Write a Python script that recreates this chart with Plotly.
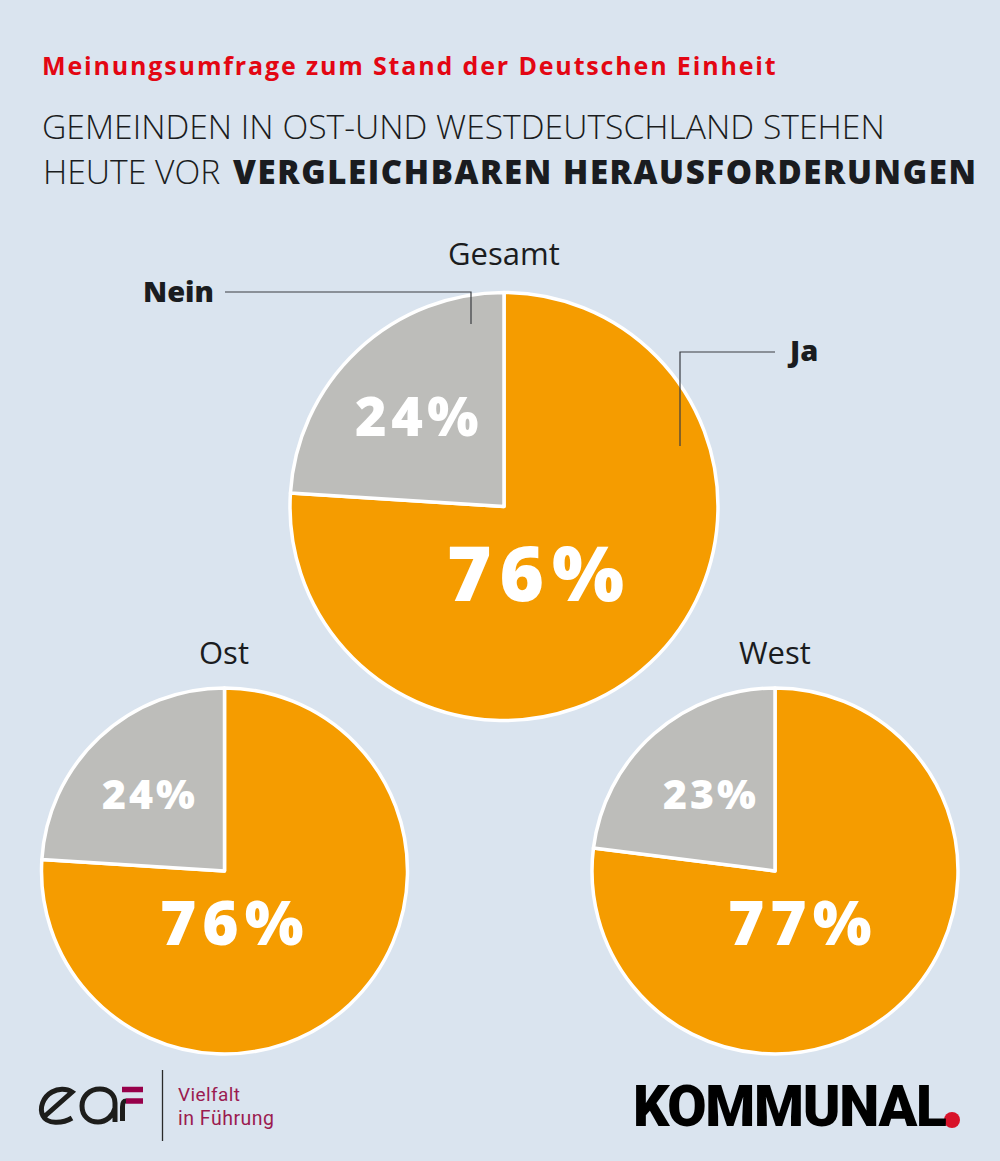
import plotly.graph_objects as go

W, H = 1000, 1161

groups = ["Gesamt", "Ost", "West"]
answers = ["Ja", "Nein"]
ja_values = [76, 76, 77]
nein_values = [24, 24, 23]

centers = [(504, 506.5), (224.5, 871), (775, 871)]
radii = [214, 183, 183]

BG = "#dae4ef"
ORANGE = "#f59c00"
GREY = "#bdbdba"
DARK = "#1a1c20"
RED = "#e30613"
BERRY = "#9b1b50"
SANS = "Open Sans"


def fx(x):
    return x / W


def fy(y):
    return 1 - y / H


def path(*cmds):
    # pixel coordinates in, paper coordinates out
    out = []
    for c in cmds:
        pts = c[1:]
        xy = [f"{fx(pts[i]):.5f},{fy(pts[i + 1]):.5f}" for i in range(0, len(pts), 2)]
        out.append(c[0] + " ".join(xy))
    return " ".join(out)


def spaced(text, px):
    return f'<span style="letter-spacing:{px}px">{text}</span>'


def label(x, y, text, size, color=DARK, weight=400, family=SANS, anchor="left"):
    return dict(x=fx(x), y=fy(y), xref="paper", yref="paper", text=text, showarrow=False,
                xanchor=anchor, yanchor="middle", borderpad=0, borderwidth=0,
                font=dict(family=family, size=size, color=color, weight=weight))


def stroke(d, color=DARK, width=1.0):
    return dict(type="path", xref="paper", yref="paper", path=d, layer="above",
                line=dict(color=color, width=width))


fig = go.Figure()
for i, g in enumerate(groups):
    cx, cy = centers[i]
    r = radii[i]
    fig.add_trace(go.Pie(
        labels=answers, values=[ja_values[i], nein_values[i]], name=g,
        sort=False, direction="clockwise", rotation=0, textinfo="none", showlegend=False,
        marker=dict(colors=[ORANGE, GREY], line=dict(color="white", width=3.5)),
        domain=dict(x=[fx(cx - r), fx(cx + r)], y=[fy(cy + r), fy(cy - r)]),
    ))

annotations = [
    label(42, 65, spaced("Meinungsumfrage zum Stand der Deutschen Einheit", 1.85), 25, RED, 700),
    label(42, 126, "GEMEINDEN IN OST-UND WESTDEUTSCHLAND STEHEN", 33.7, DARK, 300),
    label(43, 171, "HEUTE VOR", 33.7, DARK, 300),
    label(233, 171, spaced("VERGLEICHBAREN HERAUSFORDERUNGEN", 1.6), 33, DARK, 800),
    label(504, 253, groups[0], 31, anchor="center"),
    label(224, 652, groups[1], 31, anchor="center"),
    label(775, 652, groups[2], 31, anchor="center"),
    label(178, 290, answers[1], 29, DARK, 800, anchor="center"),
    label(802, 350, answers[0], 29, DARK, 800, anchor="center"),
    label(539, 571, spaced(f"{ja_values[0]}%", 8), 76, "white", 800, anchor="center"),
    label(419, 415, spaced(f"{nein_values[0]}%", 4.5), 54, "white", 800, anchor="center"),
    label(234, 921, spaced(f"{ja_values[1]}%", 6), 62, "white", 800, anchor="center"),
    label(150, 793, spaced(f"{nein_values[1]}%", 3), 41, "white", 800, anchor="center"),
    label(802, 921, spaced(f"{ja_values[2]}%", 6), 62, "white", 800, anchor="center"),
    label(711, 793, spaced(f"{nein_values[2]}%", 3), 41, "white", 800, anchor="center"),
    label(178, 1094, spaced("Vielfalt", 0.4), 19, BERRY, family="Roboto"),
    label(178, 1118, spaced("in Führung", 0.5), 19.5, BERRY, family="Roboto"),
    label(633, 1106, spaced("KOMMUNAL", -1.3), 57, "#000000", 900, family="Roboto"),
]

shapes = [
    # leader lines
    stroke(path(("M", 225, 292), ("L", 471, 292), ("L", 471, 324)), "#3a3d42", 1.2),
    stroke(path(("M", 775, 352), ("L", 680, 352), ("L", 680, 446)), "#3a3d42", 1.2),
    # eaf logo: e
    stroke(path(("M", 45, 1116), ("L", 72, 1092),
                ("C", 66, 1088, 58, 1088.5, 52, 1092),
                ("C", 43, 1097, 39, 1108, 43, 1116),
                ("C", 47, 1124, 62, 1124, 72, 1118)), "#1d1d1b", 5),
    # a
    stroke(path(("M", 115, 1122), ("L", 115, 1103),
                ("C", 115, 1094, 108, 1089, 100, 1089),
                ("C", 89, 1089, 82, 1097, 82, 1106),
                ("C", 82, 1116, 89, 1122, 98, 1122),
                ("C", 106, 1122, 113, 1116, 115, 1108)), "#1d1d1b", 5),
    # f, stem and bars
    stroke(path(("M", 122.5, 1121), ("L", 122.5, 1107),
                ("C", 122.5, 1103, 123, 1101, 126, 1101)), "#1d1d1b", 5),
    stroke(path(("M", 122, 1089.5), ("L", 143, 1089.5)), "#97004a", 5.5),
    stroke(path(("M", 126, 1101), ("L", 143, 1101)), "#97004a", 5.5),
    # logo divider
    stroke(path(("M", 162.5, 1070), ("L", 162.5, 1141)), "#2a2a2a", 1.3),
    # KOMMUNAL full stop
    dict(type="circle", xref="paper", yref="paper", layer="above", fillcolor="#d8132a",
         line=dict(width=0), x0=fx(944), x1=fx(960), y0=fy(1128), y1=fy(1112)),
]

fig.update_layout(
    width=W, height=H, margin=dict(l=0, r=0, t=0, b=0), autosize=False,
    paper_bgcolor=BG, plot_bgcolor=BG, showlegend=False,
    annotations=annotations, shapes=shapes,
)

fig.write_html("out.html", config={"displayModeBar": False},
               post_script="document.body.style.margin='0';document.body.style.background='#dae4ef';")
